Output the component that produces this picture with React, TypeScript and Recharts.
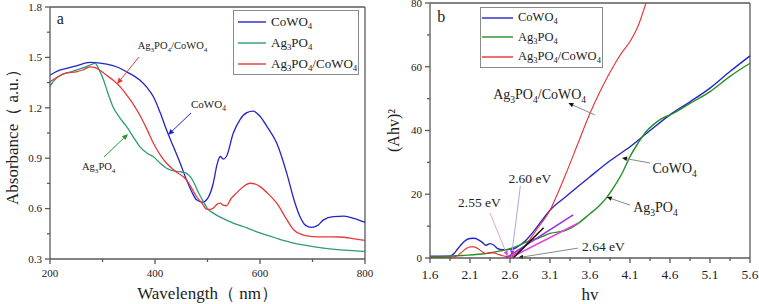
import React from 'react';
import { LineChart, Line, XAxis, YAxis, ReferenceLine, ReferenceDot, Legend } from 'recharts';

// ---------- Panel a: UV-vis absorbance ----------
const coWO4Wl = [200, 215, 232, 250, 276, 308, 330, 346, 371, 385, 397, 410, 422, 435, 448, 460, 470, 479, 490, 500, 511, 518, 524, 530, 536, 549, 562, 575, 587, 600, 615, 632, 651, 665, 676, 687, 698, 710, 721, 740, 760, 780, 800];
const coWO4Abs = [1.394, 1.42, 1.434, 1.45, 1.47, 1.46, 1.44, 1.414, 1.365, 1.32, 1.266, 1.17, 1.068, 0.969, 0.87, 0.771, 0.7, 0.652, 0.638, 0.66, 0.751, 0.86, 0.91, 0.895, 0.91, 1.048, 1.13, 1.171, 1.18, 1.15, 1.08, 0.989, 0.81, 0.65, 0.553, 0.5, 0.488, 0.5, 0.533, 0.552, 0.555, 0.54, 0.518];
const ag3PO4Wl = [200, 210, 220, 235, 250, 265, 276, 286, 293, 302, 310, 320, 333, 346, 360, 371, 385, 397, 410, 422, 435, 447, 455, 460, 467, 473, 482, 492, 500, 511, 530, 549, 575, 600, 630, 664, 690, 721, 760, 800];
const ag3PO4Abs = [1.329, 1.37, 1.394, 1.41, 1.424, 1.44, 1.454, 1.464, 1.43, 1.365, 1.29, 1.206, 1.14, 1.088, 1.02, 0.969, 0.93, 0.909, 0.87, 0.84, 0.825, 0.82, 0.815, 0.81, 0.79, 0.761, 0.7, 0.642, 0.6, 0.573, 0.54, 0.514, 0.485, 0.455, 0.425, 0.395, 0.38, 0.365, 0.353, 0.345];
const compWl = [200, 215, 232, 250, 262, 276, 285, 293, 305, 320, 335, 346, 360, 371, 385, 397, 410, 422, 440, 460, 470, 479, 490, 498, 505, 511, 520, 524, 530, 536, 545, 555, 568, 581, 592, 600, 615, 632, 650, 664, 680, 695, 720, 752, 780, 800];
const compAbs = [1.355, 1.385, 1.408, 1.414, 1.425, 1.444, 1.44, 1.428, 1.4, 1.365, 1.32, 1.276, 1.215, 1.157, 1.07, 0.989, 0.92, 0.87, 0.82, 0.771, 0.72, 0.672, 0.63, 0.597, 0.595, 0.603, 0.63, 0.632, 0.62, 0.617, 0.66, 0.692, 0.73, 0.751, 0.745, 0.731, 0.69, 0.632, 0.54, 0.474, 0.445, 0.435, 0.432, 0.431, 0.42, 0.411];

const aXTicks = [200, 300, 400, 500, 600, 700, 800];
const aXLabels = [200, 400, 600, 800];
const aYTicks = [0.3, 0.45, 0.6, 0.75, 0.9, 1.05, 1.2, 1.35, 1.5, 1.65, 1.8];
const aYLabels = [0.3, 0.6, 0.9, 1.2, 1.5, 1.8];

// ---------- Panel b: Tauc plot ----------
const coWO4Hv = [1.6, 1.85, 1.9, 1.95, 2.0, 2.05, 2.1, 2.15, 2.2, 2.25, 2.3, 2.35, 2.4, 2.45, 2.5, 2.55, 2.6, 2.65, 2.7, 2.8, 2.9, 3.0, 3.1, 3.3, 3.6, 3.85, 4.1, 4.35, 4.6, 4.85, 5.1, 5.35, 5.6];
const coWO4Tauc = [0.6, 0.6, 1.4, 3.0, 4.5, 5.6, 6.1, 6.2, 5.8, 5.0, 4.0, 4.5, 4.0, 2.9, 2.6, 2.6, 2.7, 2.9, 3.6, 5.6, 8.5, 11.8, 15, 19.3, 25.5, 30.5, 34.9, 40, 44.9, 49, 53.3, 58.5, 63.4];
const ag3PO4Hv = [1.6, 2.0, 2.3, 2.5, 2.6, 2.7, 2.8, 2.95, 3.1, 3.3, 3.45, 3.6, 3.7, 3.8, 3.9, 4.0, 4.1, 4.2, 4.3, 4.4, 4.5, 4.6, 4.85, 5.1, 5.35, 5.6];
const ag3PO4Tauc = [0.3, 0.8, 1.4, 2.3, 2.9, 3.8, 5.0, 6.2, 7.7, 8.7, 10.8, 13.9, 16, 18.7, 22.3, 26.5, 31.8, 36, 39.6, 42, 43.8, 44.9, 48.5, 52.2, 57, 61.1];
const compHv = [1.6, 1.9, 1.95, 2.0, 2.05, 2.1, 2.15, 2.2, 2.25, 2.3, 2.35, 2.4, 2.45, 2.5, 2.55, 2.6, 2.65, 2.7, 2.8, 2.9, 3.0, 3.1, 3.2, 3.3, 3.45, 3.6, 3.75, 3.9, 4.0, 4.1, 4.2, 4.3, 4.4];
const compTauc = [0.1, 0.3, 0.9, 1.9, 2.9, 3.5, 3.5, 2.9, 2.0, 1.4, 1.6, 1.6, 1.2, 0.8, 0.5, 0.5, 1.0, 1.9, 4.2, 7.7, 11.2, 15, 20.5, 26.5, 36, 45.4, 53.5, 60.5, 64.5, 67.9, 72.7, 80, 88];

const bXTicks = [1.6, 2.1, 2.6, 3.1, 3.6, 4.1, 4.6, 5.1, 5.6];
const bXMinor = [1.85, 2.35, 2.85, 3.35, 3.85, 4.35, 4.85, 5.35];
const bYTicks = [0, 10, 20, 30, 40, 50, 60, 70, 80];
const bYLabels = [0, 20, 40, 60, 80];

const seriesNames = ['CoWO_4', 'Ag_3PO_4', 'Ag_3PO_4/CoWO_4'];
const colorsA = ['#2323c8', '#2f9a78', '#e23a3a'];
const colorsB = ['#2424cc', '#239023', '#e83030'];

const zip = (xs: number[], ys: number[]) => xs.map((x, i) => ({ x, y: ys[i] }));

const SERIF = "'Liberation Serif', 'Times New Roman', 'DejaVu Serif', serif";
const AXIS = '#5a5a5a';
const TXT = '#222';

// render "Ag_3PO_4" with subscripts as SVG tspans
const subParts = (s: string, fs: number) => {
  const out: React.ReactNode[] = [];
  const re = /_(\d)/g;
  let last = 0;
  let m: RegExpExecArray | null;
  let k = 0;
  let sub = false;
  while ((m = re.exec(s))) {
    if (m.index > last) {
      out.push(<tspan key={k++} dy={sub ? -fs * 0.28 : 0}>{s.slice(last, m.index)}</tspan>);
      sub = false;
    }
    out.push(<tspan key={k++} style={{ fontSize: fs * 0.68 }} dy={sub ? 0 : fs * 0.28}>{m[1]}</tspan>);
    sub = true;
    last = m.index + m[0].length;
  }
  if (last < s.length) out.push(<tspan key={k++} dy={sub ? -fs * 0.28 : 0}>{s.slice(last)}</tspan>);
  return out;
};

const htmlParts = (s: string) =>
  s.split(/(_\d)/).filter(Boolean).map((p, i) =>
    p.startsWith('_') ? <sub key={i} style={{ fontSize: '0.68em', verticalAlign: '-0.3em', lineHeight: 0 }}>{p.slice(1)}</sub> : <span key={i}>{p}</span>
  );

const makeTextShape = (label: string, fs: number) => (p: any) => (
  <text x={p.cx} y={p.cy} style={{ fontFamily: SERIF, fontSize: fs, fill: TXT }}>{subParts(label, fs)}</text>
);

const makeArrow = (color: string, head: string, hs = 6) => (p: any) => {
  const { x1, y1, x2, y2 } = p;
  const a = Math.atan2(y2 - y1, x2 - x1);
  const bx = x2 - hs * Math.cos(a);
  const by = y2 - hs * Math.sin(a);
  const w = hs * 0.45;
  const pts = `${x2},${y2} ${bx - w * Math.sin(a)},${by + w * Math.cos(a)} ${bx + w * Math.sin(a)},${by - w * Math.cos(a)}`;
  return (
    <g>
      <line x1={x1} y1={y1} x2={bx} y2={by} stroke={color} strokeWidth={1} />
      <polygon points={pts} fill={head} />
    </g>
  );
};

const makeTick = (side: 'x' | 'y', labels: number[], fs: number, fmt: (v: number) => string, majorLen: number, minorLen: number) => (p: any) => {
  const v = p.payload.value;
  const isMajor = labels.some((l) => Math.abs(l - v) < 1e-6);
  const len = isMajor ? majorLen : minorLen;
  const ts = { fontFamily: SERIF, fontSize: fs, fill: TXT };
  if (side === 'x') {
    const y0 = p.y - 8;
    return (
      <g>
        <line x1={p.x} x2={p.x} y1={y0} y2={y0 + len} stroke={AXIS} strokeWidth={1.3} />
        {isMajor && <text x={p.x} y={y0 + len + fs + 2} textAnchor="middle" style={ts}>{fmt(v)}</text>}
      </g>
    );
  }
  const x0 = p.x + 8;
  return (
    <g>
      <line x1={x0} x2={x0 - len} y1={p.y} y2={p.y} stroke={AXIS} strokeWidth={1.3} />
      {isMajor && <text x={x0 - len - 3} y={p.y + fs * 0.35} textAnchor="end" style={ts}>{fmt(v)}</text>}
    </g>
  );
};

const makeAxisTitle = (text: string, fs: number, vertical: boolean, shift: number) => (p: any) => {
  const vb = p.viewBox || {};
  if (vertical) {
    const cx = vb.x + shift;
    const cy = vb.y + vb.height / 2;
    return (
      <text x={cx} y={cy} textAnchor="middle" dominantBaseline="central" transform={`rotate(-90 ${cx} ${cy})`} style={{ fontFamily: SERIF, fontSize: fs, fill: TXT }}>{text}</text>
    );
  }
  return (
    <text x={vb.x + vb.width / 2} y={vb.y + shift} textAnchor="middle" style={{ fontFamily: SERIF, fontSize: fs, fill: TXT }}>{text}</text>
  );
};

const makeLegend = (colors: string[], fs: number, w: number, lineLen: number, rowH: number, padTop: number, padLeft: number) => () => (
  <div style={{ boxSizing: 'border-box', width: w, border: `1px solid #8a8a8a`, background: '#fff', padding: `${padTop}px 0 ${padTop}px ${padLeft}px`, fontFamily: SERIF, fontSize: fs, color: TXT, lineHeight: `${rowH}px`, whiteSpace: 'nowrap' }}>
    {seriesNames.map((name, i) => (
      <div key={i} style={{ display: 'flex', alignItems: 'center', height: rowH }}>
        <svg width={lineLen} height={6} style={{ marginRight: 5, flex: 'none' }}>
          <line x1={0} x2={lineLen} y1={3} y2={3} stroke={colors[i]} strokeWidth={1.4} />
        </svg>
        <span>{htmlParts(name)}</span>
      </div>
    ))}
  </div>
);

export default function App() {
  const aData = [zip(coWO4Wl, coWO4Abs), zip(ag3PO4Wl, ag3PO4Abs), zip(compWl, compAbs)];
  const bData = [zip(coWO4Hv, coWO4Tauc), zip(ag3PO4Hv, ag3PO4Tauc), zip(compHv, compTauc)];
  return (
    <div style={{ position: 'absolute', left: 0, top: 0, width: 759, height: 304, display: 'flex', background: '#fff', overflow: 'hidden', fontFamily: SERIF }}>
      <LineChart width={380} height={304} margin={{ top: 7, right: 15, bottom: 0, left: 0 }} style={{ fontFamily: SERIF }}>
        <XAxis
          type="number" dataKey="x" domain={[200, 800]} ticks={aXTicks} interval={0}
          height={45} stroke={AXIS} strokeWidth={1.3} tickLine={false}
          tick={makeTick('x', aXLabels, 11, (v) => String(v), 5, 3)}
          label={{ content: makeAxisTitle('Wavelength（ nm）', 17, false, 40) }}
        />
        <YAxis
          type="number" dataKey="y" domain={[0.3, 1.8]} ticks={aYTicks} interval={0}
          width={50} stroke={AXIS} strokeWidth={1.3} tickLine={false}
          tick={makeTick('y', aYLabels, 11, (v) => v.toFixed(1), 5, 3)}
          label={{ content: makeAxisTitle('Absorbance（ a.u.）', 17, true, 12) }}
        />
        <ReferenceLine y={1.8} stroke={AXIS} strokeWidth={1.3} />
        <ReferenceLine x={800} stroke={AXIS} strokeWidth={1.3} />
        {aData.map((d, i) => (
          <Line key={i} data={d} dataKey="y" name={seriesNames[i]} stroke={colorsA[i]} strokeWidth={1.3} dot={false} isAnimationActive={false} type="monotone" />
        ))}
        <ReferenceLine segment={[{ x: 369.5, y: 1.502 }, { x: 327.6, y: 1.342 }]} shape={makeArrow(colorsA[2], colorsA[2])} />
        <ReferenceLine segment={[{ x: 468.6, y: 1.169 }, { x: 424.8, y: 1.038 }]} shape={makeArrow(colorsA[0], colorsA[0])} />
        <ReferenceLine segment={[{ x: 302.9, y: 0.907 }, { x: 348.6, y: 1.044 }]} shape={makeArrow('#2a9a2a', '#2a9a2a')} />
        <ReferenceDot x={367} y={1.552} r={0} shape={makeTextShape('Ag_3PO_4/CoWO_4', 10.5)} />
        <ReferenceDot x={468.6} y={1.2} r={0} shape={makeTextShape('CoWO_4', 11)} />
        <ReferenceDot x={261} y={0.832} r={0} shape={makeTextShape('Ag_3PO_4', 10.5)} />
        <ReferenceDot x={213} y={1.7} r={0} shape={makeTextShape('a', 16)} />
        <Legend layout="vertical" align="center" verticalAlign="middle" wrapperStyle={{ top: 10, left: 233, width: 'auto' }} content={makeLegend(colorsA, 13, 126, 28, 21, 0, 4)} />
      </LineChart>

      <LineChart width={379} height={304} margin={{ top: 3, right: 9, bottom: 0, left: 0 }} style={{ fontFamily: SERIF }}>
        <XAxis
          type="number" dataKey="x" domain={[1.6, 5.6]} ticks={[...bXTicks, ...bXMinor].sort((a, b) => a - b)} interval={0}
          height={46} stroke={AXIS} strokeWidth={1.3} tickLine={false}
          tick={makeTick('x', bXTicks, 13.5, (v) => v.toFixed(1), 5, 3)}
          label={{ content: makeAxisTitle('hv', 17, false, 42) }}
        />
        <YAxis
          type="number" dataKey="y" domain={[0, 80]} allowDataOverflow ticks={bYTicks} interval={0}
          width={50} stroke={AXIS} strokeWidth={1.3} tickLine={false}
          tick={makeTick('y', bYLabels, 11, (v) => String(v), 5, 3)}
          label={{ content: makeAxisTitle('(Ahv)²', 16, true, 13) }}
        />
        <ReferenceLine y={80} stroke={AXIS} strokeWidth={1.3} />
        <ReferenceLine x={5.6} stroke={AXIS} strokeWidth={1.3} />
        {bData.map((d, i) => (
          <Line key={i} data={d} dataKey="y" name={seriesNames[i]} stroke={colorsB[i]} strokeWidth={i === 2 ? 1.1 : 1.4} dot={false} isAnimationActive={false} type="monotone" />
        ))}
        <ReferenceLine segment={[{ x: 2.55, y: 0 }, { x: 3.39, y: 13.5 }]} stroke="#9a2ee0" strokeWidth={1.5} />
        <ReferenceLine segment={[{ x: 2.6, y: 0 }, { x: 3.45, y: 10.9 }]} stroke="#e040e0" strokeWidth={1.5} />
        <ReferenceLine segment={[{ x: 2.64, y: 0 }, { x: 3.02, y: 9.5 }]} stroke="#111" strokeWidth={1.5} />
        <ReferenceLine segment={[{ x: 2.35, y: 14.1 }, { x: 2.57, y: 0.6 }]} shape={makeArrow('#e7a0d8', '#e040e0', 5)} />
        <ReferenceLine segment={[{ x: 2.73, y: 22.6 }, { x: 2.62, y: 0.8 }]} shape={makeArrow('#b8a0e8', '#9a2ee0', 5)} />
        <ReferenceLine segment={[{ x: 3.45, y: 3.1 }, { x: 2.7, y: 0.1 }]} shape={makeArrow('#888', '#111', 5)} />
        <ReferenceLine segment={[{ x: 3.66, y: 44.9 }, { x: 3.33, y: 48.6 }]} shape={makeArrow('#888', '#111', 5)} />
        <ReferenceLine segment={[{ x: 4.35, y: 29.8 }, { x: 4.0, y: 31.4 }]} shape={makeArrow('#888', '#111', 5)} />
        <ReferenceLine segment={[{ x: 4.1, y: 16.6 }, { x: 3.81, y: 19.1 }]} shape={makeArrow('#888', '#111', 5)} />
        <ReferenceDot x={2.39} y={50} r={0} shape={makeTextShape('Ag_3PO_4/CoWO_4', 14)} />
        <ReferenceDot x={4.38} y={26.7} r={0} shape={makeTextShape('CoWO_4', 14)} />
        <ReferenceDot x={4.14} y={14.4} r={0} shape={makeTextShape('Ag_3PO_4', 14)} />
        <ReferenceDot x={2.58} y={23.5} r={0} shape={makeTextShape('2.60 eV', 13.5)} />
        <ReferenceDot x={1.95} y={16} r={0} shape={makeTextShape('2.55 eV', 13.5)} />
        <ReferenceDot x={3.5} y={2.2} r={0} shape={makeTextShape('2.64 eV', 13.5)} />
        <ReferenceDot x={1.69} y={74} r={0} shape={makeTextShape('b', 16)} />
        <Legend layout="vertical" align="center" verticalAlign="middle" wrapperStyle={{ top: 7, left: 100, width: 'auto' }} content={makeLegend(colorsB, 12.5, 123, 31, 19.5, 0, 1)} />
      </LineChart>
    </div>
  );
}
